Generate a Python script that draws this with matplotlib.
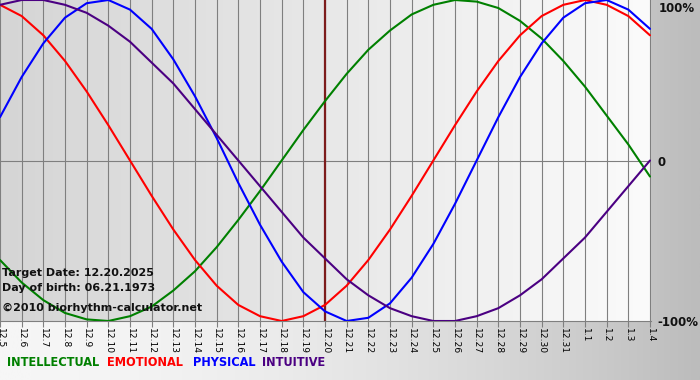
import numpy as np
import matplotlib
matplotlib.use("Agg")
import matplotlib.pyplot as plt
from matplotlib.colors import LinearSegmentedColormap

# ---- data (in fractions of 100%) ----
days = ["12.5", "12.6", "12.7", "12.8", "12.9", "12.10", "12.11", "12.12", "12.13",
        "12.14", "12.15", "12.16", "12.17", "12.18", "12.19", "12.20", "12.21",
        "12.22", "12.23", "12.24", "12.25", "12.26", "12.27", "12.28", "12.29",
        "12.30", "12.31", "1.1", "1.2", "1.3", "1.4"]

intellectual = [-0.62, -0.76, -0.87, -0.95, -0.99, -1.00, -0.97, -0.91, -0.81, -0.69,
                -0.54, -0.37, -0.19, 0.00, 0.19, 0.37, 0.54, 0.69, 0.81, 0.91,
                0.97, 1.00, 0.99, 0.95, 0.87, 0.76, 0.62, 0.46, 0.28, 0.10, -0.10]
emotional = [0.97, 0.90, 0.78, 0.62, 0.43, 0.22, 0.00, -0.22, -0.43, -0.62,
             -0.78, -0.90, -0.97, -1.00, -0.97, -0.90, -0.78, -0.62, -0.43, -0.22,
             0.00, 0.22, 0.43, 0.62, 0.78, 0.90, 0.97, 1.00, 0.97, 0.90, 0.78]
physical = [0.27, 0.52, 0.73, 0.89, 0.98, 1.00, 0.94, 0.82, 0.63, 0.40,
            0.14, -0.14, -0.40, -0.63, -0.82, -0.94, -1.00, -0.98, -0.89, -0.73,
            -0.52, -0.27, 0.00, 0.27, 0.52, 0.73, 0.89, 0.98, 1.00, 0.94, 0.82]
intuitive = [0.97, 1.00, 1.00, 0.97, 0.92, 0.84, 0.74, 0.61, 0.48, 0.32,
             0.16, 0.00, -0.16, -0.32, -0.48, -0.61, -0.74, -0.84, -0.92, -0.97,
             -1.00, -1.00, -0.97, -0.92, -0.84, -0.74, -0.61, -0.48, -0.32, -0.16, 0.00]

target_label = "12.20"
series_names = ["INTELLECTUAL", "EMOTIONAL", "PHYSICAL", "INTUITIVE"]
series_colors = ["#008000", "#ff0000", "#0000ff", "#4b0082"]

# ---- figure ----
W, H = 700, 380
fig = plt.figure(figsize=(W / 100, H / 100), dpi=100)

# figure background gradient
bg = fig.add_axes([0, 0, 1, 1], zorder=-10)
bg.set_axis_off()
g = np.linspace(0, 1, 256) ** 1.8
bg_cmap = LinearSegmentedColormap.from_list("bg", ["#f6f6f6", "#bcbcbc"])
bg.imshow(g[None, :], aspect="auto", cmap=bg_cmap, extent=[0, 1, 0, 1], vmin=0, vmax=1)
bg.set_xlim(0, 1)
bg.set_ylim(0, 1)

n = len(days)
x = np.arange(n)
ax = fig.add_axes([0, (H - 321) / H, 651 / W, 321 / H])
xmax = (n - 1) + 1 / 21.67
ax.set_xlim(0, xmax)
ax.set_ylim(-1, 1)
ax.patch.set_visible(False)

pc = LinearSegmentedColormap.from_list("pa", ["#d5d5d5", "#fbfbfb"])
ax.imshow(np.linspace(0, 1, 256)[None, :], aspect="auto", cmap=pc,
          extent=[0, xmax, -1, 1], zorder=0)

for xi in x:
    ax.axvline(xi, color="#7f7f7f", lw=0.8, zorder=1)
ax.axhline(0, color="#7f7f7f", lw=0.8, zorder=1)

ti = days.index(target_label)
ax.axvline(ti, color="#7d1c1c", lw=1.6, zorder=2)

for vals, col in zip([intellectual, emotional, physical, intuitive], series_colors):
    ax.plot(x, vals, color=col, lw=1.5, zorder=3, solid_capstyle="round",
            solid_joinstyle="round")

for s in ["top", "right", "left"]:
    ax.spines[s].set_visible(False)
ax.spines["bottom"].set_color("#7f7f7f")
ax.spines["bottom"].set_linewidth(0.8)
ax.set_yticks([])
ax.set_xticks(x)
ax.set_xticklabels(days, rotation=270, fontsize=6.6, family="DejaVu Sans")
ax.tick_params(axis="x", direction="out", length=4, color="#7f7f7f", width=0.8, pad=1)

# annotations inside plot
txt_kw = dict(fontsize=8.0, fontweight="bold", family="DejaVu Sans", color="#111111",
              transform=fig.transFigure, va="baseline", ha="left")
fig.text(2 / W, 1 - 276 / H, "Target Date: 12.20.2025", **txt_kw)
fig.text(2 / W, 1 - 291 / H, "Day of birth: 06.21.1973", **txt_kw)
fig.text(2 / W, 1 - 311 / H, "\u00a92010 biorhythm-calculator.net", **txt_kw)

# right axis labels
rk = dict(fontsize=8.5, fontweight="bold", family="DejaVu Sans", color="#111111",
          va="center", ha="left")
fig.text(659 / W, 1 - 8 / H, "100%", **rk)
fig.text(658 / W, 1 - 162 / H, "0", **rk)
fig.text(657 / W, 1 - 322 / H, "-100%", **rk)

# legend text
leg_x = [7, 107, 193, 262]
for name, col, lx in zip(series_names, series_colors, leg_x):
    fig.text(lx / W, 1 - 362 / H, name, color=col, fontsize=9.1, fontweight="bold",
             family="DejaVu Sans", fontstretch="condensed", va="center", ha="left")

fig.savefig("out.png", dpi=100)
